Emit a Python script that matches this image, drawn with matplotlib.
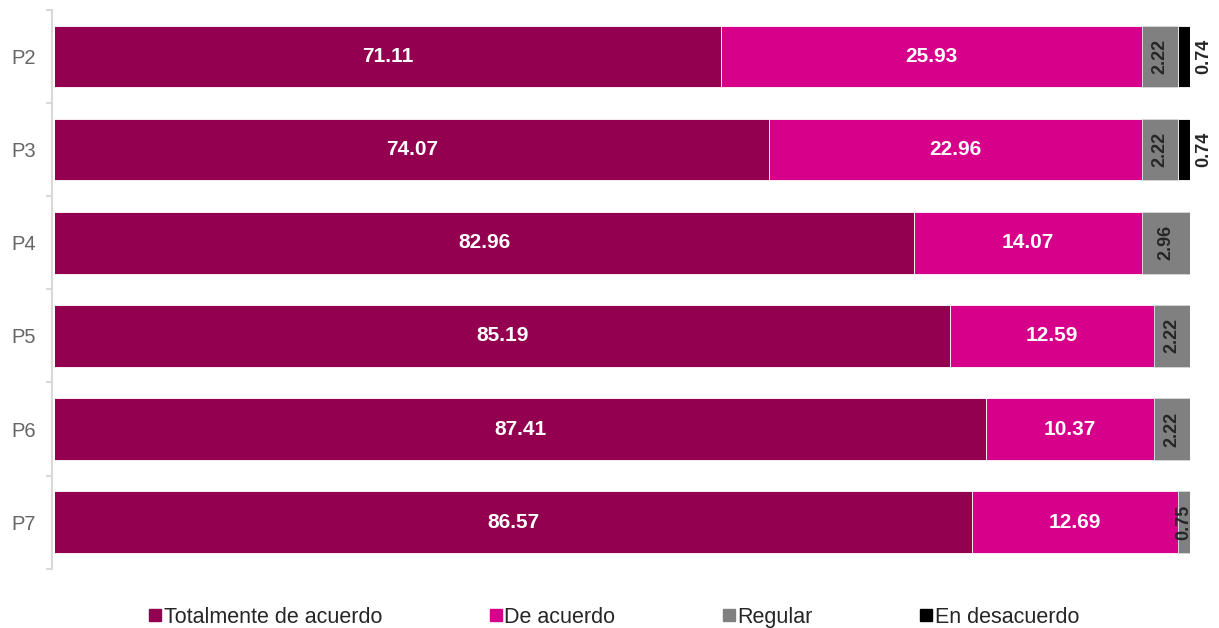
import matplotlib.pyplot as plt
import numpy as np
from matplotlib.lines import Line2D

plt.rcParams['font.family'] = ['Liberation Sans', 'DejaVu Sans']

preguntas = ["P2", "P3", "P4", "P5", "P6", "P7"]
totalmente = [71.11, 74.07, 82.96, 85.19, 87.41, 86.57]
de_acuerdo = [25.93, 22.96, 14.07, 12.59, 10.37, 12.69]
regular = [2.22, 2.22, 2.96, 2.22, 2.22, 0.75]
desacuerdo = [0.74, 0.74, 0.0, 0.0, 0.0, 0.0]

series = [
    ("Totalmente de acuerdo", totalmente, "#93004f"),
    ("De acuerdo", de_acuerdo, "#d6008a"),
    ("Regular", regular, "#808080"),
    ("En desacuerdo", desacuerdo, "#000000"),
]
xmin = 30

fig = plt.figure(figsize=(12.19, 6.28), dpi=100)
ax = fig.add_axes([0.0451, 0.0945, 0.931, 0.8895])

# spine first: set_position resets the tick settings
for s in ["top", "right", "bottom"]:
    ax.spines[s].set_visible(False)
ax.spines["left"].set_color("#d9d9d9")
ax.spines["left"].set_linewidth(1.5)
ax.spines["left"].set_position(("outward", 2))

y = np.arange(len(preguntas))
left = np.zeros(len(preguntas))
for k, (name, vals, col) in enumerate(series):
    vals = np.array(vals)
    edge = "#d9d9d9" if k == 2 else "white"
    ax.barh(y, vals, left=left, height=0.66, color=col, edgecolor=edge, linewidth=0.6)
    for i, v in enumerate(vals):
        if v <= 0:
            continue
        a = max(left[i], xmin)
        b = left[i] + v
        if k < 2:
            ax.text((a + b) / 2, y[i], f"{v:.2f}", ha="center", va="center",
                    color="white", fontsize=15, fontweight="bold")
        elif k == 2:
            ax.text((a + b) / 2, y[i], f"{v:.2f}", ha="center", va="center",
                    color="#262626", fontsize=13, fontweight="bold", rotation=90)
        else:
            ax.text(b + 0.35, y[i], f"{v:.2f}", ha="left", va="center",
                    color="#262626", fontsize=13, fontweight="bold", rotation=90)
    left = left + vals

ax.set_xlim(xmin, 100)
ax.set_ylim(len(preguntas) - 0.5, -0.5)
ax.set_yticks(y)
ax.set_yticklabels(preguntas)
ax.set_yticks(np.arange(-0.5, len(preguntas)), minor=True)
ax.tick_params(axis="y", which="major", length=0, pad=12, labelsize=14.5, labelcolor="#666666")
ax.tick_params(axis="y", which="minor", length=4, color="#d9d9d9", width=1.5)
ax.set_xticks([])

handles = [Line2D([0], [0], marker="s", linestyle="none", color=c, markersize=8)
           for _, _, c in series]
fig.legend(handles, [s[0] for s in series], loc="center", bbox_to_anchor=(0.504, 0.017),
           ncol=4, frameon=False, fontsize=15.5, handlelength=0.55, handletextpad=0.12,
           columnspacing=5.0, labelcolor="#262626")

fig.savefig("out.png", dpi=100)
